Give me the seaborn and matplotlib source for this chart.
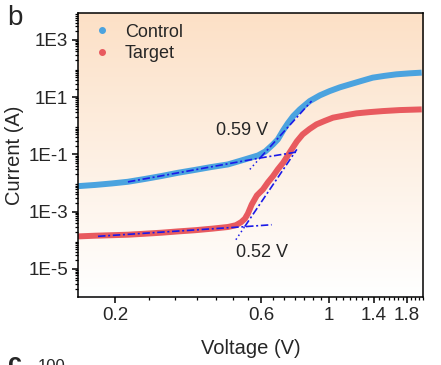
import numpy as np
import pandas as pd
import matplotlib
matplotlib.use("Agg")
import matplotlib.pyplot as plt
from matplotlib.lines import Line2D
from matplotlib.ticker import FixedLocator, FuncFormatter, LogLocator, NullFormatter
import seaborn as sns

# ---------------- data ----------------
control_v = [0.151, 0.172, 0.195, 0.220, 0.250, 0.284, 0.321, 0.364, 0.414, 0.467,
             0.511, 0.551, 0.586, 0.619, 0.656, 0.680, 0.708, 0.733, 0.764, 0.803,
             0.865, 0.934, 1.005, 1.085, 1.170, 1.280, 1.390, 1.522, 1.660, 1.837, 2.010]
control_i = [7.8e-3, 8.6e-3, 9.7e-3, 1.11e-2, 1.39e-2, 1.77e-2, 2.29e-2, 2.87e-2, 3.66e-2, 4.47e-2,
             5.93e-2, 7.55e-2, 9.2e-2, 0.127, 0.224, 0.334, 0.69, 1.21, 2.18, 3.74,
             7.3, 11.6, 16.3, 22.0, 28.0, 37.2, 48.0, 55.6, 62.7, 68.0, 71.9]

target_v = [0.151, 0.172, 0.195, 0.220, 0.250, 0.284, 0.321, 0.364, 0.414, 0.467,
            0.496, 0.516, 0.531, 0.543, 0.559, 0.581, 0.608, 0.631, 0.656, 0.680,
            0.708, 0.755, 0.785, 0.820, 0.865, 0.910, 0.968, 1.030, 1.127, 1.230,
            1.360, 1.503, 1.705, 2.010]
target_i = [1.37e-4, 1.45e-4, 1.51e-4, 1.57e-4, 1.70e-4, 1.85e-4, 2.05e-4, 2.25e-4, 2.55e-4, 2.92e-4,
            3.37e-4, 4.3e-4, 5.7e-4, 8.6e-4, 1.79e-3, 3.7e-3, 5.97e-3, 1.05e-2, 1.74e-2, 3.0e-2,
            5.13e-2, 0.150, 0.285, 0.50, 0.78, 1.12, 1.48, 1.92, 2.31, 2.72,
            3.01, 3.27, 3.54, 3.74]

# tangent (fit) lines: start, knee, end
control_low_fit_v = [0.220, 0.595, 0.780]
control_low_fit_i = [1.1e-2, 7.5e-2, 0.12]
control_steep_fit_v = [0.551, 0.595, 0.877]
control_steep_fit_i = [3.0e-2, 7.5e-2, 7.3]
target_low_fit_v = [0.1756, 0.530, 0.649]
target_low_fit_i = [1.38e-4, 3.0e-4, 3.5e-4]
target_steep_fit_v = [0.496, 0.530, 0.785]
target_steep_fit_i = [1.05e-4, 3.0e-4, 0.15]

series_names = ["Control", "Target"]
onset_labels = ["0.59 V", "0.52 V"]
x_tick_vals = [0.2, 0.6, 1.0, 1.4, 1.8]
x_tick_labels = ["0.2", "0.6", "1", "1.4", "1.8"]
y_tick_vals = [1e-5, 1e-3, 1e-1, 1e1, 1e3]
y_tick_labels = ["1E-5", "1E-3", "1E-1", "1E1", "1E3"]

# ---------------- style ----------------
sns.set_style("ticks")
plt.rcParams["font.family"] = ["Liberation Sans", "DejaVu Sans"]
plt.rcParams["axes.linewidth"] = 1.1

BLUE = "#4ba3df"
RED = "#e85a5f"
FIT = "#1a1ae8"

W, H = 441, 365
fig = plt.figure(figsize=(W / 100, H / 100), dpi=100)
L, R, T, B = 77.7, 423.0, 12.7, 297.3
pos = [L / W, (H - B) / H, (R - L) / W, (B - T) / H]

# gradient background
bg = fig.add_axes(pos, zorder=0)
top = np.array([252, 224, 198]) / 255
bot = np.array([255, 255, 255]) / 255
t = np.linspace(0, 1, 256)[:, None, None]
img = top * (1 - t) + bot * t
img = np.repeat(img, 2, axis=1)
bg.imshow(img, aspect="auto", extent=[0, 1, 0, 1], origin="upper")
bg.set_axis_off()

ax = fig.add_axes(pos, zorder=1)
ax.patch.set_alpha(0)

df = pd.concat([
    pd.DataFrame({"voltage": control_v, "current": control_i, "sample": series_names[0]}),
    pd.DataFrame({"voltage": target_v, "current": target_i, "sample": series_names[1]}),
])
sns.lineplot(data=df, x="voltage", y="current", hue="sample",
             palette={series_names[0]: BLUE, series_names[1]: RED},
             sort=False, estimator=None, lw=4.3, legend=False, ax=ax,
             solid_capstyle="butt")

dashdot = (0, (4.5, 1.6, 1.2, 1.6))
dotted = (0, (1, 2))
for fv, fi in [(control_low_fit_v, control_low_fit_i), (target_low_fit_v, target_low_fit_i)]:
    ax.plot(fv, fi, color=FIT, lw=1.2, ls=dashdot, zorder=5)
for fv, fi in [(control_steep_fit_v, control_steep_fit_i), (target_steep_fit_v, target_steep_fit_i)]:
    ax.plot(fv[:2], fi[:2], color=FIT, lw=1.1, ls=dotted, zorder=5)
    ax.plot(fv[1:], fi[1:], color=FIT, lw=1.2, ls=dashdot, zorder=5)

ax.set_xscale("log")
ax.set_yscale("log")
ax.set_xlim(0.1507, 2.03)
ax.set_ylim(10 ** -5.99, 10 ** 3.95)

ax.xaxis.set_major_locator(FixedLocator(x_tick_vals))
ax.xaxis.set_major_formatter(FuncFormatter(lambda v, p: x_tick_labels[x_tick_vals.index(min(x_tick_vals, key=lambda z: abs(z - v)))]))
minor_x = [0.2 + k * 0.4 / 7 for k in range(-1, 34) if k % 7 != 0]
ax.xaxis.set_minor_locator(FixedLocator(minor_x))
ax.xaxis.set_minor_formatter(NullFormatter())

ax.yaxis.set_major_locator(FixedLocator(y_tick_vals))
ax.yaxis.set_major_formatter(FuncFormatter(lambda v, p: y_tick_labels[int(np.argmin([abs(np.log10(v) - np.log10(z)) for z in y_tick_vals]))]))
ax.yaxis.set_minor_locator(LogLocator(base=10, subs=np.arange(2, 10), numticks=30))
ax.yaxis.set_minor_formatter(NullFormatter())

ax.tick_params(which="major", direction="out", length=4, width=1.1, labelsize=13.5, pad=3, color="black")
ax.tick_params(which="minor", direction="out", length=2.2, width=0.9, color="black")
for s in ax.spines.values():
    s.set_visible(True)
    s.set_linewidth(1.1)
    s.set_color("black")

ax.set_xlabel("Voltage (V)", fontsize=14.5, labelpad=11)
ax.set_ylabel("Current (A)", fontsize=14.5, labelpad=3)

# annotations
ax.text(0.519, 0.69, onset_labels[0], fontsize=13, ha="center", va="center")
ax.text(0.603, 10 ** -4.44, onset_labels[1], fontsize=13, ha="center", va="center")

handles = [Line2D([], [], ls="", marker="o", ms=4, color=BLUE, mec=BLUE),
           Line2D([], [], ls="", marker="o", ms=4, color=RED, mec=RED)]
ax.legend(handles, series_names, loc="upper left", frameon=False, fontsize=13,
          handletextpad=0.5, borderaxespad=0.2, labelspacing=0.25, borderpad=0.4,
          handlelength=1.5)

fig.text(15 / W, 1 - 18 / H, "b", fontsize=20, ha="center", va="center")
fig.text(8 / W, -6 / H, "c", fontsize=18, fontweight="bold", ha="left", va="baseline")
fig.text(38 / W, -6 / H, "100", fontsize=12, ha="left", va="baseline")

fig.savefig("out.png", dpi=100)
